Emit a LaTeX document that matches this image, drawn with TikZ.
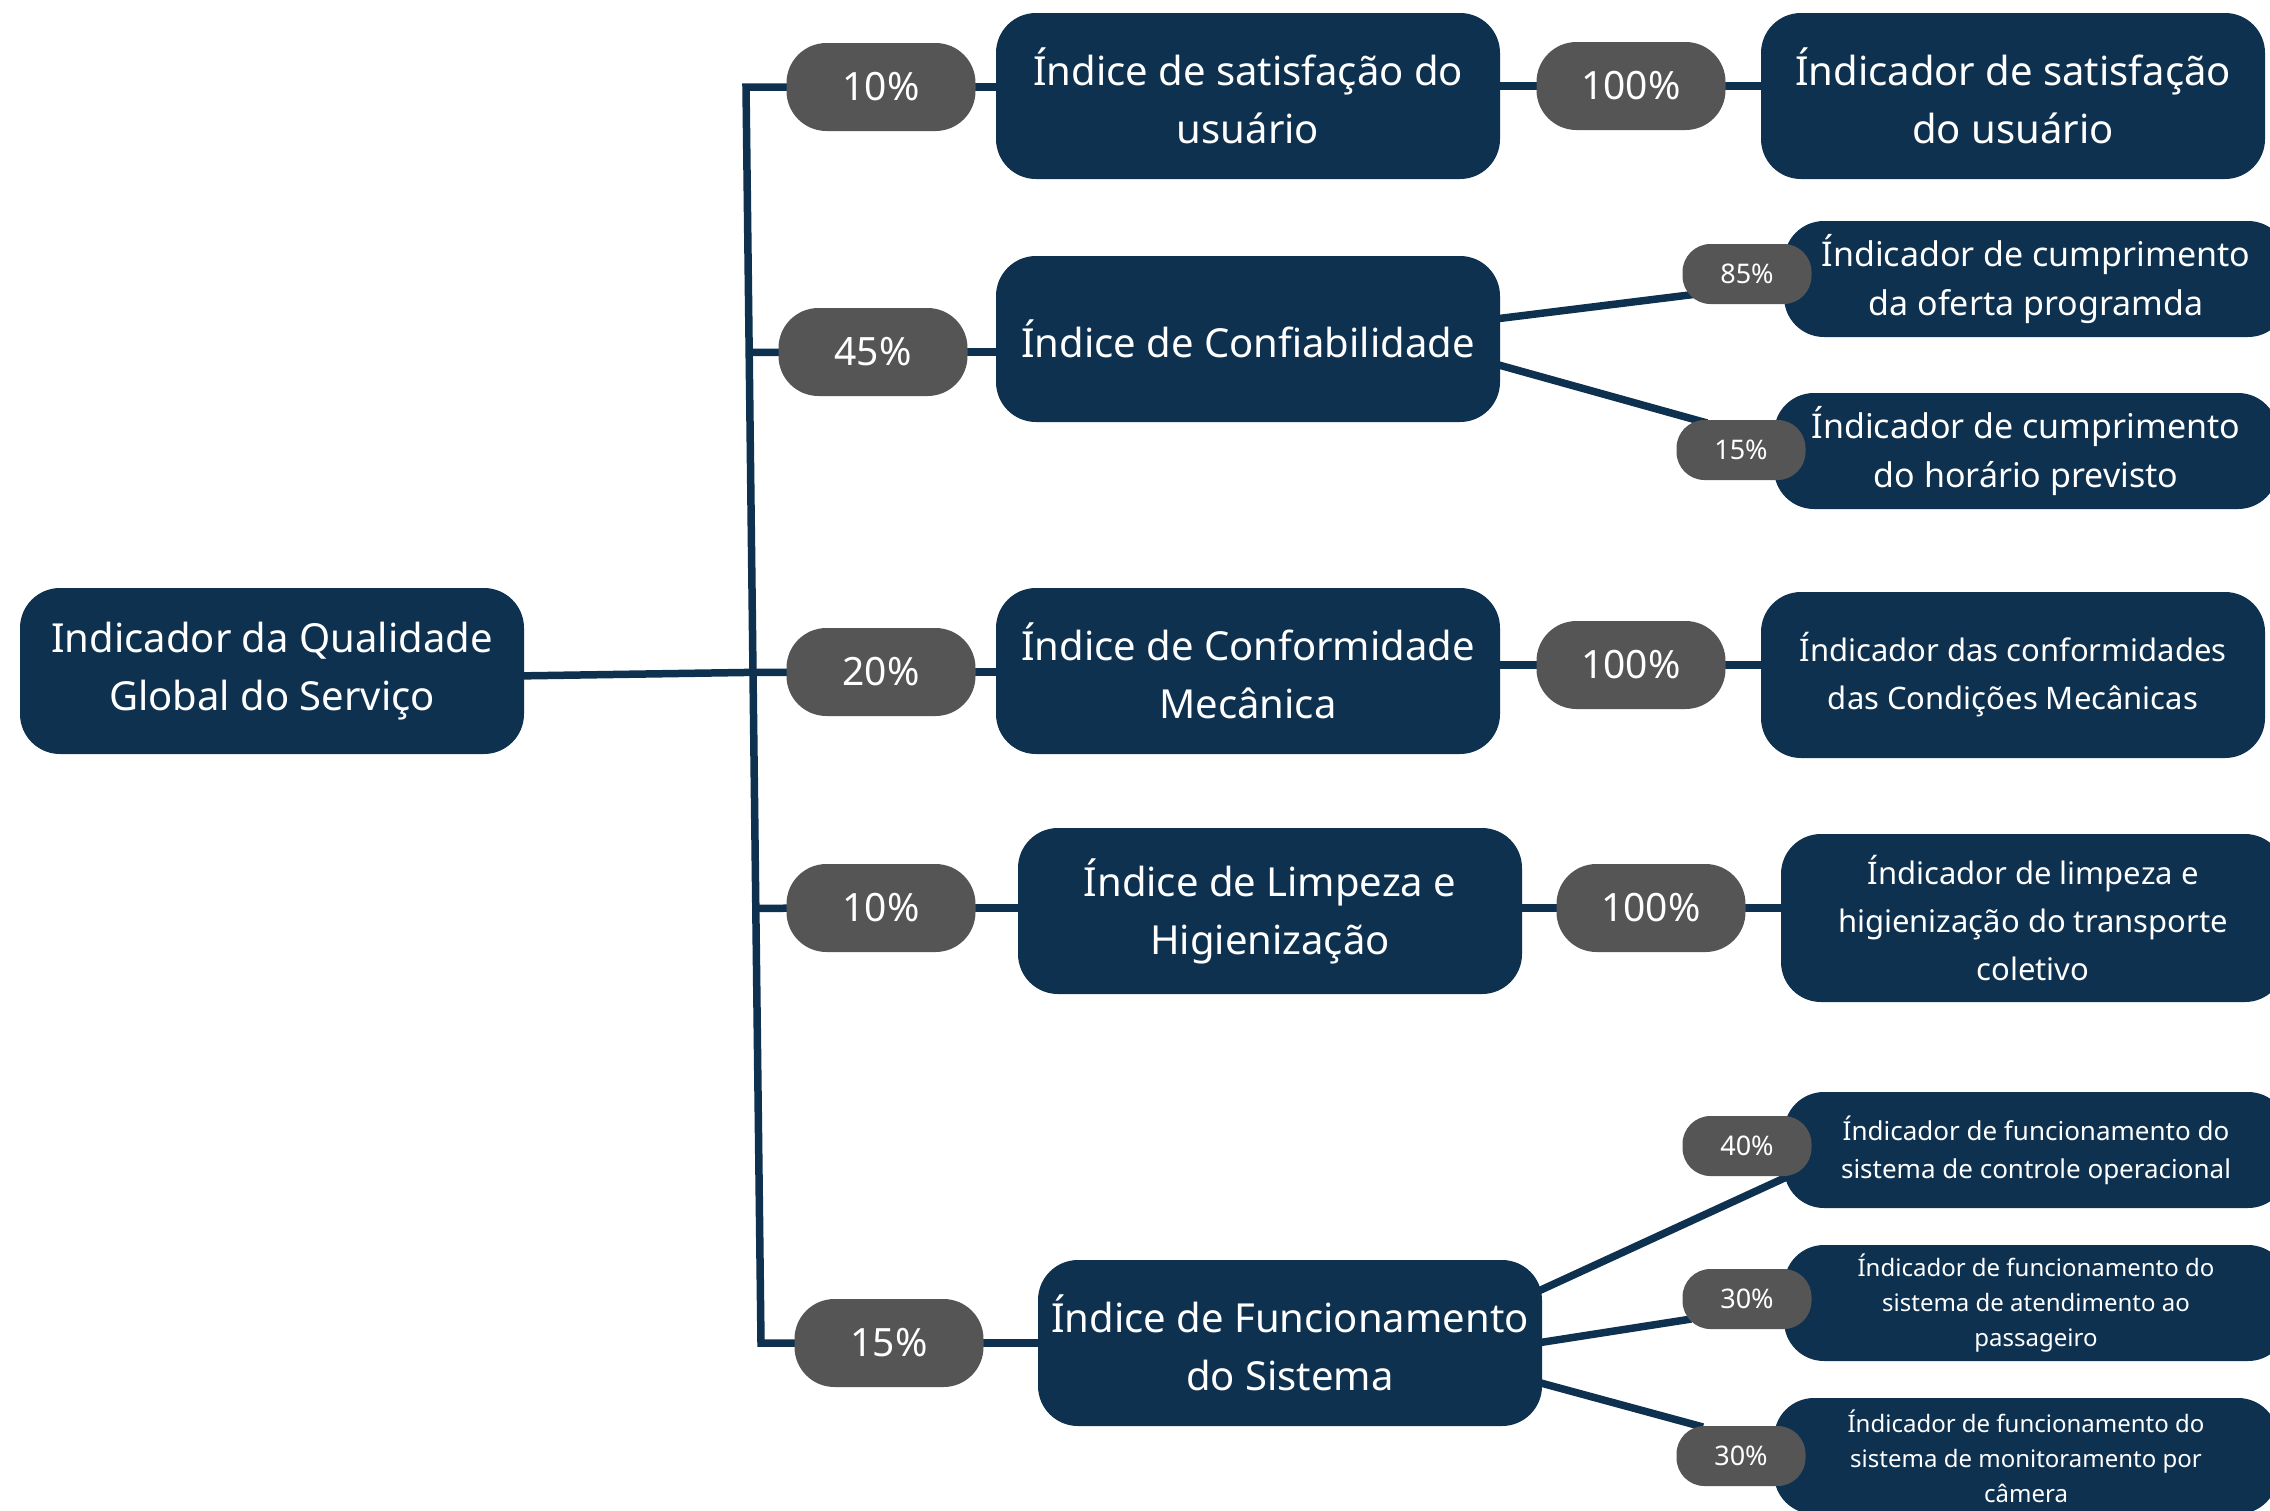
\documentclass[tikz,border=0pt]{standalone}
\usepackage{fontspec}
\setmainfont{Noto Sans}
\usetikzlibrary{calc}
\definecolor{navy}{HTML}{0E3150}
\definecolor{pillgray}{HTML}{555555}
\pgfdeclarelayer{back}
\pgfdeclarelayer{bg}
\pgfsetlayers{back,bg,main}
\begin{document}
\begin{tikzpicture}[x=1pt,y=-1pt,
  base/.style={text=white, align=center, inner sep=0pt},
  bigbox/.style={base, fill=navy, rounded corners=40pt, minimum width=504pt, minimum height=166pt, font=\fontsize{40}{58}\selectfont},
  midbox/.style={base, fill=navy, rounded corners=40pt, minimum width=504pt, minimum height=116pt, font=\fontsize{34}{49}\selectfont},
  pill/.style={base, fill=pillgray, rounded corners=40pt, minimum width=189pt, minimum height=88pt, font=\fontsize{39}{46}\selectfont},
  spill/.style={base, fill=pillgray, rounded corners=28pt, minimum width=129pt, minimum height=60pt, font=\fontsize{27}{32}\selectfont},
  conn/.style={draw=navy, line width=7.5pt, line join=miter}
]
\useasboundingbox (0,0) rectangle (2270,1510);
\begin{pgfonlayer}{back}
  \fill[white] (0,0) rectangle (2270,1510);
\end{pgfonlayer}

% root and first level
\node[bigbox] (root) at (272,671) {Indicador da Qualidade\\Global do Serviço};
\node[bigbox] (l1a) at (1248,96) {Índice de satisfação do\\usuário};
\node[bigbox] (l1b) at (1248,339) {Índice de Confiabilidade};
\node[bigbox] (l1c) at (1248,671) {Índice de Conformidade\\Mecânica};
\node[bigbox] (l1d) at (1270,911) {Índice de Limpeza e\\Higienização};
\node[bigbox] (l1e) at (1290,1343) {Índice de Funcionamento\\do Sistema};

\node[pill] (p1) at (881,87) {10\%};
\node[pill] (p2) at (873,352) {45\%};
\node[pill] (p3) at (881,672) {20\%};
\node[pill] (p4) at (881,908) {10\%};
\node[pill] (p5) at (889,1343) {15\%};

% second level
\node[bigbox] (m1) at (2013,96) {Índicador de satisfação\\do usuário};
\node[midbox] (m2) at (2036,279) {Índicador de cumprimento\\da oferta programda};
\node[midbox] (m3) at (2026,451) {Índicador de cumprimento\\do horário previsto};
\node[bigbox, font=\fontsize{31}{48}\selectfont] (m4) at (2013,675) {Índicador das conformidades\\das Condições Mecânicas};
\node[bigbox, minimum height=168pt, font=\fontsize{31}{48}\selectfont] (m5) at (2033,918) {Índicador de limpeza e\\higienização do transporte\\coletivo};
\node[midbox, font=\fontsize{26}{38}\selectfont] (m6) at (2036,1150) {Índicador de funcionamento do\\sistema de controle operacional};
\node[midbox, font=\fontsize{24}{35}\selectfont] (m7) at (2036,1303) {Índicador de funcionamento do\\sistema de atendimento ao\\passageiro};
\node[midbox, font=\fontsize{24}{35}\selectfont] (m8) at (2026,1456) {Índicador de funcionamento do\\sistema de monitoramento por\\câmera};

\node[pill] (q1) at (1631,86) {100\%};
\node[spill] (q2) at (1747,274) {85\%};
\node[spill] (q3) at (1741,450) {15\%};
\node[pill] (q4) at (1631,665) {100\%};
\node[pill] (q5) at (1651,908) {100\%};
\node[spill] (q6) at (1747,1146) {40\%};
\node[spill] (q7) at (1747,1299) {30\%};
\node[spill] (q8) at (1741,1456) {30\%};

\coordinate (ttop) at (746,87);
\coordinate (tbot) at (761,1343);

\begin{pgfonlayer}{bg}
  \draw[conn] (p1.center) -- (ttop) -- (tbot) -- (p5.center);
  \draw[conn] ($(ttop)!(p2.west)!(tbot)$) -- (p2.center);
  \draw[conn] ($(ttop)!(p3.west)!(tbot)$) -- (p3.center);
  \draw[conn] ($(ttop)!(p4.west)!(tbot)$) -- (p4.center);
  \draw[conn] ($(root.east)+(-10,5)$) -- ($(ttop)!(p3.west)!(tbot)$);
  % first level to index boxes
  \draw[conn] (p1.center) -- (p1.center -| l1a.center);
  \draw[conn] (p2.center) -- (p2.center -| l1b.center);
  \draw[conn] (p3.center) -- (p3.center -| l1c.center);
  \draw[conn] (p4.center) -- (p4.center -| l1d.center);
  \draw[conn] (p5.center) -- (l1e.center);
  % index boxes to indicators
  \draw[conn] (l1a.center |- q1.center) -- (q1.center -| m1.center);
  \draw[conn] (l1c.center |- q4.center) -- (q4.center -| m4.center);
  \draw[conn] (l1d.center |- q5.center) -- (q5.center -| m5.center);
  \draw[conn] ($(l1b.east)+(-5,-20)$) -- ($(q2.west)+(15,20)$);
  \draw[conn] ($(l1b.east)+(-5,25)$) -- ($(q3.center)+(-34,-27)$);
  \draw[conn] ($(l1e.east)+(-8,-50)$) -- ($(m6.west)+(5,26)$);
  \draw[conn] ($(l1e.east)+(-5,0)$) -- ($(q7.west)+(9,20)$);
  \draw[conn] ($(l1e.east)+(-5,39)$) -- ($(q8.center)+(-38,-29)$);
\end{pgfonlayer}
\end{tikzpicture}
\end{document}
